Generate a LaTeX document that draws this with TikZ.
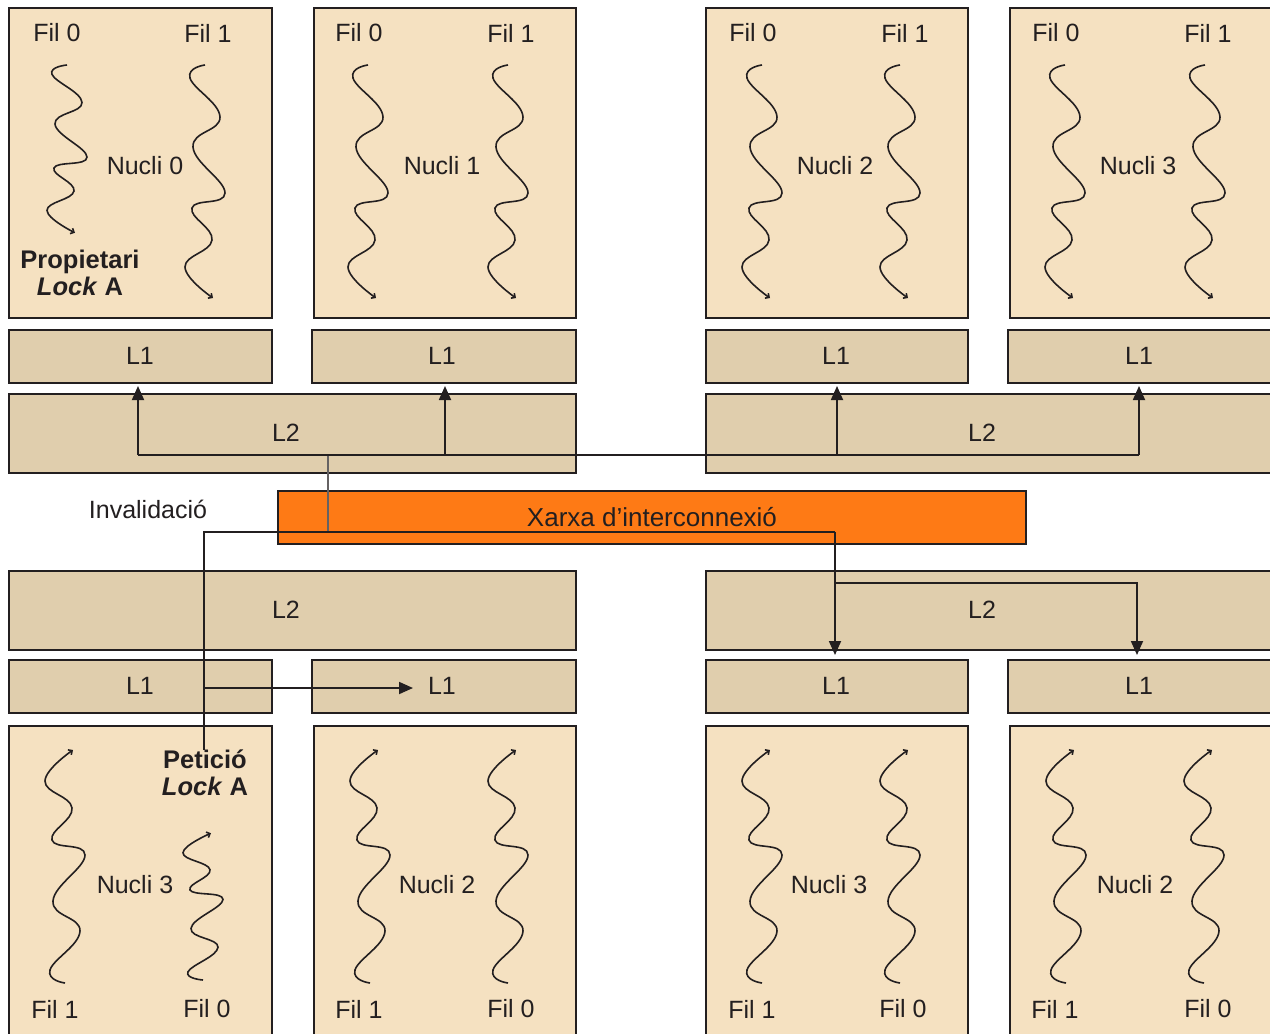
\documentclass[tikz,border=0pt]{standalone}
\usepackage{fontspec}
\setmainfont{Liberation Sans}
\usetikzlibrary{arrows.meta}
\definecolor{nucleus}{HTML}{F5E1C1}
\definecolor{cache}{HTML}{E0CEAD}
\definecolor{netorange}{HTML}{FE7A15}
\definecolor{ink}{HTML}{231F20}

% rectangle node from corner (x1,y1) to corner (x2,y2)
\newcommand\boxnode[6]{%
  \node[#2, minimum width={(#5-#3)*1pt}, minimum height={(#6-#4)*1pt}]
    (#1) at ({(#3+#5)/2},{(#4+#6)/2}) {};}
% wavy thread: start point, vertical scale (negative = upwards)
\newcommand\thread[3]{%
  \begin{scope}[shift={(#1,#2)}, yscale=#3]
    \draw[wave] plot[smooth, tension=0.75] coordinates
      {(0,0) (-15,13) (15,52) (-12,82) (20,128) (-13,143) (7,175) (-20,202) (8,233)};
  \end{scope}}

\begin{document}
\begin{tikzpicture}[x=1pt, y=-1pt,
  box/.style={draw=ink, line width=1.8pt, rectangle, inner sep=0pt, outer sep=0pt},
  corebox/.style={box, fill=nucleus},
  cachebox/.style={box, fill=cache},
  netbox/.style={box, fill=netorange},
  lbl/.style={font=\fontsize{25}{29}\selectfont, text=ink, inner sep=0pt},
  blbl/.style={lbl, font=\fontsize{25.5}{28}\selectfont\bfseries, align=center},
  bus/.style={draw=ink, line width=1.8pt},
  thinbus/.style={draw=ink!70, line width=1.4pt},
  arr/.style={bus, -{Triangle[length=14pt,width=12pt]}},
  wave/.style={draw=ink, line width=1.6pt, -{Straight Barb[length=3pt,width=6pt]}},
]
\fill[white] (0,0) rectangle (1270,1034);
\useasboundingbox (0,0) rectangle (1270,1034);
\clip (0,0) rectangle (1270,1034);

% ---------- upper cores ----------
\boxnode{nA}{corebox}{9}{8}{272}{318}
\boxnode{nB}{corebox}{314}{8}{576}{318}
\boxnode{nC}{corebox}{706}{8}{968}{318}
\boxnode{nD}{corebox}{1010}{8}{1300}{318}

\boxnode{l1A}{cachebox}{9}{330}{272}{383}
\boxnode{l1B}{cachebox}{312}{330}{576}{383}
\boxnode{l1C}{cachebox}{706}{330}{968}{383}
\boxnode{l1D}{cachebox}{1008}{330}{1300}{383}

\boxnode{l2L}{cachebox}{9}{394}{576}{473}
\boxnode{l2R}{cachebox}{706}{394}{1300}{473}

% ---------- interconnect ----------
\boxnode{net}{netbox}{278}{491}{1026}{544}

% ---------- lower cores ----------
\boxnode{l2l}{cachebox}{9}{571}{576}{650}
\boxnode{l2r}{cachebox}{706}{571}{1300}{650}

\boxnode{l1a}{cachebox}{9}{660}{272}{713}
\boxnode{l1b}{cachebox}{312}{660}{576}{713}
\boxnode{l1c}{cachebox}{706}{660}{968}{713}
\boxnode{l1d}{cachebox}{1008}{660}{1300}{713}

\boxnode{na}{corebox}{9}{726}{272}{1060}
\boxnode{nb}{corebox}{314}{726}{576}{1060}
\boxnode{nc}{corebox}{706}{726}{968}{1060}
\boxnode{nd}{corebox}{1010}{726}{1300}{1060}

% ---------- threads ----------
\thread{67}{65}{0.72}
\thread{205}{65}{1}
\thread{368}{65}{1}
\thread{508}{65}{1}
\thread{762}{65}{1}
\thread{900}{65}{1}
\thread{1065}{65}{1}
\thread{1205}{65}{1}

\thread{65}{983}{-1}
\thread{203}{980}{-0.63}
\thread{370}{983}{-1}
\thread{508}{983}{-1}
\thread{762}{983}{-1}
\thread{900}{983}{-1}
\thread{1066}{983}{-1}
\thread{1204}{983}{-1}

% ---------- labels ----------
\node[lbl] (tA0) at (57,33) {Fil 0};
\node[lbl] (tA1) at (208,33) {Fil 1};
\node[lbl] (tB0) at (359,33) {Fil 0};
\node[lbl] (tB1) at (511,33) {Fil 1};
\node[lbl] (tC0) at (753,33) {Fil 0};
\node[lbl] (tC1) at (905,33) {Fil 1};
\node[lbl] (tD0) at (1056,33) {Fil 0};
\node[lbl] (tD1) at (1208,33) {Fil 1};

\node[lbl] (kA) at (145,166) {Nucli 0};
\node[lbl] (kB) at (442,166) {Nucli 1};
\node[lbl] (kC) at (835,166) {Nucli 2};
\node[lbl] (kD) at (1138,166) {Nucli 3};

\node[blbl] (owner) at (80,273) {Propietari\\[-1pt]\textit{Lock} A};

\node[lbl] (cA) at (140,356) {L1};
\node[lbl] (cB) at (442,356) {L1};
\node[lbl] (cC) at (836,356) {L1};
\node[lbl] (cD) at (1139,356) {L1};
\node[lbl] (cL) at (286,433) {L2};
\node[lbl] (cR) at (982,433) {L2};

\node[lbl] (inv) at (148,509) {Invalidació};
\node[lbl, font=\fontsize{26}{29}\selectfont] (netl) at (652,517) {Xarxa d’interconnexió};

\node[lbl] (cl) at (286,610) {L2};
\node[lbl] (cr) at (982,610) {L2};
\node[lbl] (ca) at (140,686) {L1};
\node[lbl] (cb) at (442,686) {L1};
\node[lbl] (cc) at (836,686) {L1};
\node[lbl] (cd) at (1139,686) {L1};

\node[blbl, anchor=north] (req) at (205,750) {Petició\\[-1pt]\textit{Lock} A};

\node[lbl] (ka) at (135,885) {Nucli 3};
\node[lbl] (kb) at (437,885) {Nucli 2};
\node[lbl] (kc) at (829,885) {Nucli 3};
\node[lbl] (kd) at (1135,885) {Nucli 2};

\node[lbl] (ta1) at (55,1009) {Fil 1};
\node[lbl] (ta0) at (207,1009) {Fil 0};
\node[lbl] (tb1) at (359,1009) {Fil 1};
\node[lbl] (tb0) at (511,1009) {Fil 0};
\node[lbl] (tc1) at (752,1009) {Fil 1};
\node[lbl] (tc0) at (903,1009) {Fil 0};
\node[lbl] (td1) at (1055,1009) {Fil 1};
\node[lbl] (td0) at (1208,1009) {Fil 0};

% ---------- connectors ----------
\coordinate (hub)  at (328,455);
\coordinate (hubN) at (328,532);
\coordinate (busW) at (138,455);
\coordinate (busE) at (1139,455);
\coordinate (jB)   at (445,455);
\coordinate (jC)   at (837,455);
\coordinate (upA)  at (138,386);
\coordinate (upB)  at (445,386);
\coordinate (upC)  at (837,386);
\coordinate (upD)  at (1139,386);

\coordinate (netJ) at (835,532);
\coordinate (fork) at (835,583);
\coordinate (dnC)  at (835,655);
\coordinate (dnD)  at (1137,655);
\coordinate (loc)  at (204,688);
\coordinate (toB)  at (413,688);

% invalidation broadcast to the upper caches
\draw[thinbus] (hubN) -- (hub);
\draw[bus] (busW) -- (busE);
\draw[arr] (busW) -- (upA);
\draw[arr] (jB) -- (upB);
\draw[arr] (jC) -- (upC);
\draw[arr] (busE) -- (upD);

% lock request through the interconnect
\draw[bus] (req.north -| loc) |- (netJ);
\draw[arr] (netJ) -- (dnC);
\draw[arr] (fork) -| (dnD);
\draw[arr] (loc) -- (toB);
\end{tikzpicture}
\end{document}
